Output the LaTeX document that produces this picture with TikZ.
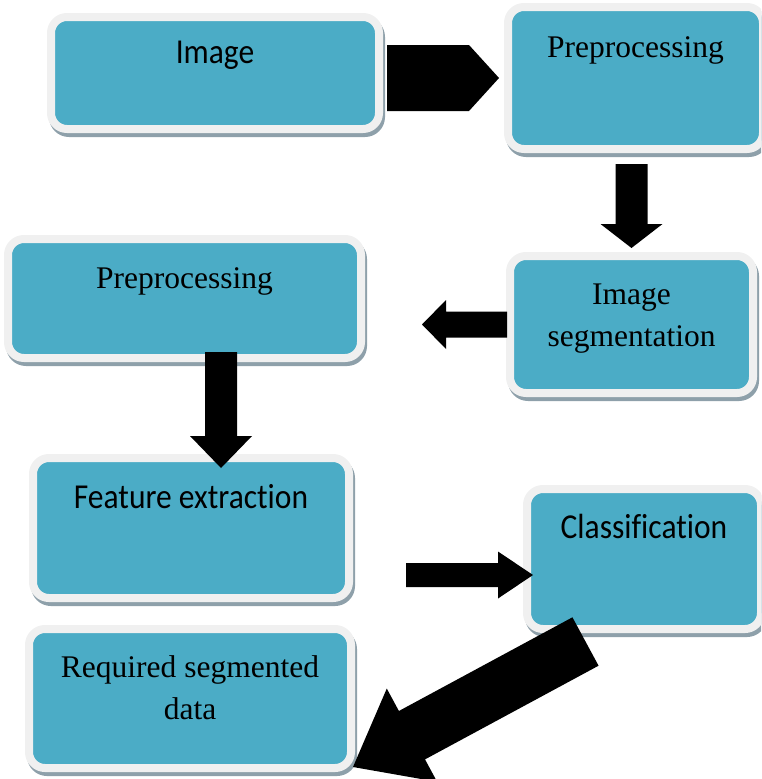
\documentclass[tikz,border=0pt]{standalone}
\usepackage{fontspec}
\setmainfont{Liberation Serif}
\newfontfamily\calfont[FakeStretch=0.9, Ligatures=NoCommon]{Carlito}
\usetikzlibrary{calc}

\definecolor{boxfill}{HTML}{4BACC6}
\definecolor{boxedge}{HTML}{F0F0F0}
\definecolor{shadowcol}{RGB}{142,160,170}

% block arrow: start, tip, half shaft, half head, head length
\newcommand{\blockarrow}[5]{%
  \coordinate (bah) at ($(#2)!#5!(#1)$);
  \fill[black] ($(#1)!#3!90:(#2)$) -- ($(bah)!#3!90:(#2)$) -- ($(bah)!#4!90:(#2)$)
    -- (#2) -- ($(bah)!#4!-90:(#2)$) -- ($(bah)!#3!-90:(#2)$) -- ($(#1)!#3!-90:(#2)$) -- cycle;
}

\begin{document}
\begin{tikzpicture}[x=1pt, y=-1pt,
    box/.style={rectangle, rounded corners=16pt, draw=boxedge, line width=8pt, fill=boxfill, inner sep=0pt,
      preaction={draw=shadowcol, fill=shadowcol, transform canvas={shift={(2pt,-4pt)}}}},
    sanstxt/.style={font=\calfont\fontsize{35}{40}\selectfont, align=center, inner sep=0pt},
    seriftxt/.style={font=\fontsize{31.5}{42}\selectfont, align=center, inner sep=0pt}]
    \clip (0,0) rectangle (761,779);

    % Draw Boxes
    \node[box, minimum width=328pt, minimum height=112pt] (img) at (215,73) {};
    \node[box, minimum width=255pt, minimum height=142pt] (pre1) at (635.5,78) {};
    \node[box, minimum width=243pt, minimum height=137pt] (seg) at (631.5,324.5) {};
    \node[box, minimum width=353pt, minimum height=119pt] (pre2) at (184.5,298.5) {};
    \node[box, minimum width=316pt, minimum height=140pt] (feat) at (191,528) {};
    \node[box, minimum width=234pt, minimum height=140pt] (cls) at (644,559) {};
    \node[box, minimum width=322pt, minimum height=139pt] (req) at (190,698.5) {};

    % Box Texts
    \node[sanstxt] (imgtxt) at ([yshift=-42pt]img.north) {Image};
    \node[seriftxt] (pre1txt) at ([yshift=-47pt]pre1.north) {Preprocessing};
    \node[seriftxt] (segtxt) at ([yshift=-67pt]seg.north) {Image\\segmentation};
    \node[seriftxt] (pre2txt) at ([yshift=-46pt]pre2.north) {Preprocessing};
    \node[sanstxt] (feattxt) at ([yshift=-43pt]feat.north) {Feature extraction};
    \node[sanstxt] (clstxt) at ([yshift=-41pt]cls.north) {Classification};
    \node[seriftxt] (reqtxt) at ([yshift=-62.5pt]req.north) {Required segmented\\data};

    % Draw Arrows
    \coordinate (a1s) at ($(img.east |- pre1.west)+(4,0)$);
    \coordinate (a1e) at ($(pre1.west)+(-5,0)$);
    \blockarrow{a1s}{a1e}{33pt}{33pt}{30pt}
    \coordinate (a2s) at ($(pre1.south -| seg.north)+(0,11)$);
    \coordinate (a2e) at ($(seg.north)+(0,-4)$);
    \blockarrow{a2s}{a2e}{16pt}{31pt}{24pt}
    \coordinate (a3s) at ($(seg.west)+(1,0)$);
    \coordinate (a3e) at ($(seg.west -| pre2.east)+(57,0)$);
    \blockarrow{a3s}{a3e}{13pt}{24.5pt}{24pt}
    \coordinate (a4s) at ($(pre2.south)+(36.5,-10)$);
    \coordinate (a4e) at ($(a4s |- feat.north)+(0,14)$);
    \blockarrow{a4s}{a4e}{16pt}{31pt}{32pt}
    \coordinate (a5e) at ($(cls.west)+(10,16)$);
    \coordinate (a5s) at ($(a5e -| feat.east)+(53,0)$);
    \blockarrow{a5s}{a5e}{12pt}{23.5pt}{35pt}
    \coordinate (a6s) at ($(cls.south)+(-58.5,8.5)$);
    \coordinate (a6e) at ($(req.south east)+(-2,-5)$);
    \blockarrow{a6s}{a6e}{27.5pt}{53pt}{67pt}
\end{tikzpicture}
\end{document}
